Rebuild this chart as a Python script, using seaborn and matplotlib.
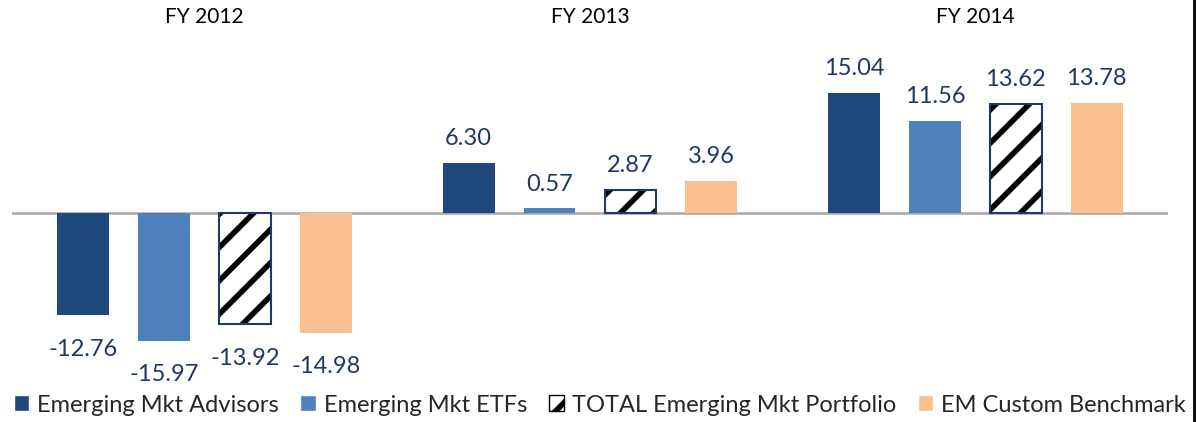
import numpy as np
import pandas as pd
import matplotlib
matplotlib.use("Agg")
import matplotlib.pyplot as plt
from matplotlib.patches import Patch, Rectangle
from matplotlib.lines import Line2D
import seaborn as sns

# data
years = ["FY 2012", "FY 2013", "FY 2014"]
series = ["Emerging Mkt Advisors", "Emerging Mkt ETFs",
          "TOTAL Emerging Mkt Portfolio", "EM Custom Benchmark"]
advisors = [-12.76, 6.30, 15.04]
etfs = [-15.97, 0.57, 11.56]
total = [-13.92, 2.87, 13.62]
benchmark = [-14.98, 3.96, 13.78]

colors = ["#1F497D", "#4F81BD", "#FFFFFF", "#FAC090"]
label_color = "#1F3864"

df = pd.DataFrame({
    "year": years * 4,
    "series": np.repeat(series, len(years)),
    "value": advisors + etfs + total + benchmark,
})

sns.set_theme(style="white")
plt.rcParams["font.family"] = ["Lato", "DejaVu Sans"]
plt.rcParams["hatch.linewidth"] = 4.0

fig = plt.figure(figsize=(11.98, 4.22), dpi=100)
ax = fig.add_axes([12 / 1198, 1 - 375 / 422, (1168 - 12) / 1198, 330 / 422])

sns.barplot(data=df, x="year", y="value", hue="series", order=years,
            hue_order=series, palette=colors, saturation=1, width=0.84,
            gap=0.36, edgecolor="none", linewidth=0, legend=False, ax=ax)

# hatched total bars: black hatch, dark blue outline
for p in ax.containers[2]:
    p.set_hatch("/")
    p.set_edgecolor("black")
    p.set_linewidth(0)
    ax.add_patch(Rectangle(p.get_xy(), p.get_width(), p.get_height(),
                           fill=False, edgecolor="#1F3864", lw=1.5, zorder=p.get_zorder() + 0.1))

# value labels, negatives sit a bit further from the bar end
for c in ax.containers:
    vals = c.datavalues
    pos = [f"{v:.2f}" if v >= 0 else "" for v in vals]
    neg = [f"{v:.2f}" if v < 0 else "" for v in vals]
    ax.bar_label(c, labels=pos, padding=10, color=label_color, fontsize=17)
    ax.bar_label(c, labels=neg, padding=17, color=label_color, fontsize=17)

ax.axhline(0, color="#A6A6A6", lw=1.8, zorder=0.5)
ax.set_xlim(-0.5, 2.5)
ax.set_ylim(-20.25, 21.0)
ax.set_xlabel("")
ax.set_ylabel("")
ax.set_yticks([])
ax.xaxis.tick_top()
ax.tick_params(axis="x", length=0, pad=13, labelsize=15, colors="black")
sns.despine(ax=ax, left=True, bottom=True, top=True, right=True)

handles = [Patch(facecolor=colors[0]), Patch(facecolor=colors[1]),
           Patch(facecolor="white", edgecolor="black", hatch="/", lw=1),
           Patch(facecolor=colors[3])]
fig.legend(handles, series, loc="center", bbox_to_anchor=(600 / 1198, 1 - 405 / 422),
           ncol=4, frameon=False, fontsize=17, handlelength=0.65, handleheight=0.65,
           handletextpad=0.35, columnspacing=0.9)

fig.add_artist(Line2D([1194 / 1198] * 2, [0, 1], color="black", lw=2,
                      transform=fig.transFigure))

fig.savefig("out.png", dpi=100)
